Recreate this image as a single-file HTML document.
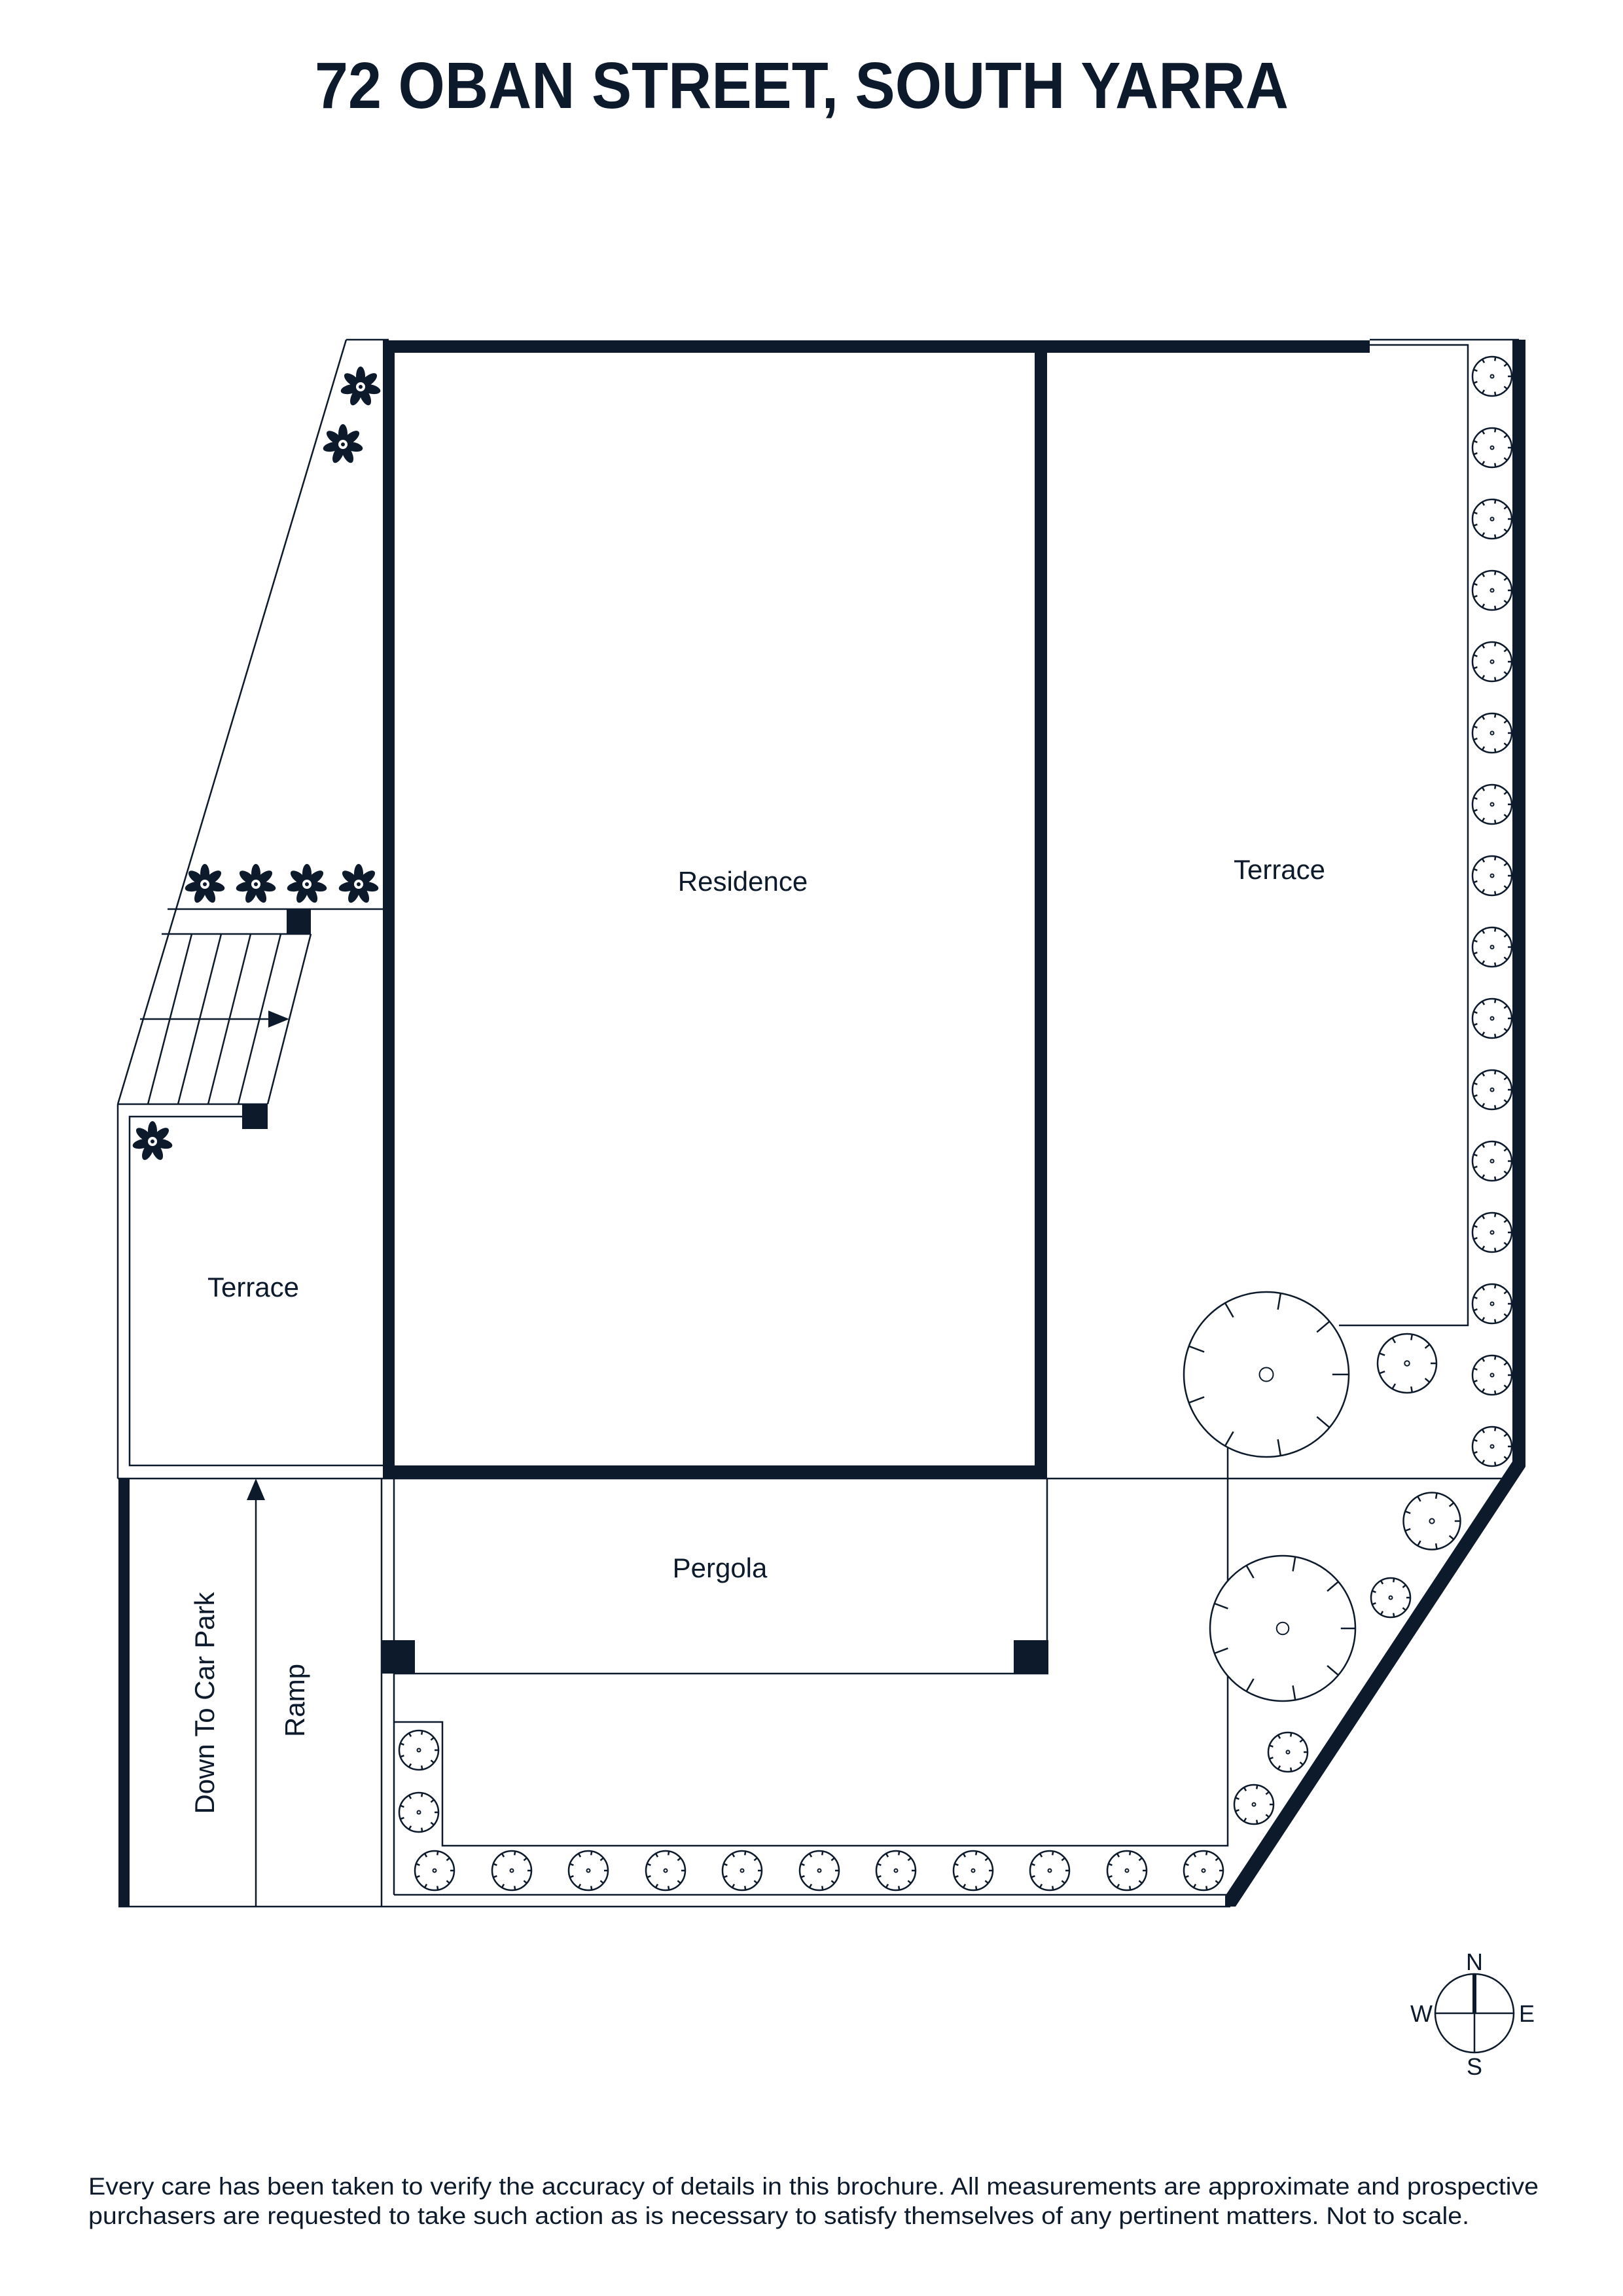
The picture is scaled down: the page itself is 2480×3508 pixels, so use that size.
<!DOCTYPE html>
<html><head><meta charset="utf-8"><style>html,body{margin:0;padding:0;background:#fff}svg{display:block}</style></head>
<body>
<svg xmlns="http://www.w3.org/2000/svg" xmlns:xlink="http://www.w3.org/1999/xlink" width="2480" height="3508" viewBox="0 0 2480 3508">
<defs>
<g id="st">
<circle r="30" fill="#fff" stroke="#0d1a2b" stroke-width="2.5" vector-effect="non-scaling-stroke"/>
<circle r="2.5" fill="none" stroke="#0d1a2b" stroke-width="2" vector-effect="non-scaling-stroke"/>
<g stroke="#0d1a2b" stroke-width="2.5" vector-effect="non-scaling-stroke">
<line x1="24" y1="0" x2="30" y2="0" vector-effect="non-scaling-stroke"/>
<line x1="18.4" y1="15.4" x2="23" y2="19.3" vector-effect="non-scaling-stroke"/>
<line x1="4.2" y1="23.6" x2="5.2" y2="29.5" vector-effect="non-scaling-stroke"/>
<line x1="-12" y1="20.8" x2="-15" y2="26" vector-effect="non-scaling-stroke"/>
<line x1="-22.6" y1="8.2" x2="-28.2" y2="10.3" vector-effect="non-scaling-stroke"/>
<line x1="-22.6" y1="-8.2" x2="-28.2" y2="-10.3" vector-effect="non-scaling-stroke"/>
<line x1="-12" y1="-20.8" x2="-15" y2="-26" vector-effect="non-scaling-stroke"/>
<line x1="4.2" y1="-23.6" x2="5.2" y2="-29.5" vector-effect="non-scaling-stroke"/>
<line x1="18.4" y1="-15.4" x2="23" y2="-19.3" vector-effect="non-scaling-stroke"/>
</g>
</g>
<g id="fl" fill="#0d1a2b">
<ellipse cx="0" cy="-16" rx="7" ry="15"/>
<ellipse cx="0" cy="-16" rx="7" ry="15" transform="rotate(51.4)"/>
<ellipse cx="0" cy="-16" rx="7" ry="15" transform="rotate(102.8)"/>
<ellipse cx="0" cy="-16" rx="7" ry="15" transform="rotate(154.2)"/>
<ellipse cx="0" cy="-16" rx="7" ry="15" transform="rotate(205.6)"/>
<ellipse cx="0" cy="-16" rx="7" ry="15" transform="rotate(257)"/>
<ellipse cx="0" cy="-16" rx="7" ry="15" transform="rotate(308.4)"/>
<circle r="8" fill="#fff" stroke="#0d1a2b" stroke-width="2"/>
<circle r="3" fill="#0d1a2b"/>
</g>
</defs>

<text x="1225" y="165" font-family="Liberation Sans, sans-serif" font-weight="bold" font-size="100" fill="#0d1a2b" text-anchor="middle" textLength="1488" lengthAdjust="spacingAndGlyphs">72 OBAN STREET, SOUTH YARRA</text>

<g stroke="#0d1a2b" stroke-width="2.5" fill="none">
<line x1="529" y1="519" x2="594" y2="519"/>
<line x1="529" y1="519" x2="180" y2="1687"/>
<line x1="180" y1="1687" x2="180" y2="2259"/>
<line x1="256" y1="1389" x2="594" y2="1389"/>
<line x1="247" y1="1427" x2="475" y2="1427"/>
<line x1="475" y1="1427" x2="409" y2="1687"/>
<line x1="293" y1="1427" x2="226" y2="1687"/>
<line x1="338" y1="1427" x2="272" y2="1687"/>
<line x1="383" y1="1427" x2="318" y2="1687"/>
<line x1="429" y1="1427" x2="364" y2="1687"/>
<line x1="180" y1="1687" x2="409" y2="1687"/>
<line x1="214" y1="1557" x2="415" y2="1557"/>
<polyline points="370,1706 198,1706 198,2239 594,2239"/>
<line x1="180" y1="2259" x2="2300" y2="2259"/>
<line x1="391" y1="2285" x2="391" y2="2913"/>
<line x1="583" y1="2259" x2="583" y2="2913"/>
<line x1="181" y1="2913" x2="1880" y2="2913"/>
<line x1="602" y1="2259" x2="602" y2="2895"/>
<line x1="602" y1="2895" x2="1880" y2="2895"/>
<line x1="602" y1="2557" x2="1602" y2="2557"/>
<line x1="1600" y1="2259" x2="1600" y2="2557"/>
<polyline points="602,2631 676,2631 676,2820 1876,2820 1876,2180"/>
<polyline points="2093,519 2321,519"/>
<polyline points="2093,527 2243,527 2243,2025 2046,2025"/>
</g>
<polygon points="442,1557 410,1544 410,1570" fill="#0d1a2b"/>
<polygon points="391,2259 377,2292 405,2292" fill="#0d1a2b"/>

<g fill="#0d1a2b">
<rect x="585" y="520" width="1508" height="19"/>
<rect x="585" y="520" width="18" height="1740"/>
<rect x="1581" y="520" width="19" height="1740"/>
<rect x="585" y="2239" width="1015" height="21"/>
<rect x="181" y="2259" width="17" height="654"/>
<rect x="438" y="1389" width="37" height="38"/>
<rect x="370" y="1687" width="39" height="38"/>
<rect x="583" y="2506" width="51" height="51"/>
<rect x="1549" y="2506" width="53" height="51"/>
<polygon points="2311,519 2331,519 2331,2241 1888,2913 1872,2913 1872,2897 2311,2233"/>
</g>

<use xlink:href="#fl" transform="translate(551,591)"/>
<use xlink:href="#fl" transform="translate(524,679)"/>
<use xlink:href="#fl" transform="translate(313,1351)"/>
<use xlink:href="#fl" transform="translate(391,1351)"/>
<use xlink:href="#fl" transform="translate(469,1351)"/>
<use xlink:href="#fl" transform="translate(548,1351)"/>
<use xlink:href="#fl" transform="translate(233,1744)"/>

<use xlink:href="#st" transform="translate(2280,575)"/>
<use xlink:href="#st" transform="translate(2280,684)"/>
<use xlink:href="#st" transform="translate(2280,793)"/>
<use xlink:href="#st" transform="translate(2280,902)"/>
<use xlink:href="#st" transform="translate(2280,1011)"/>
<use xlink:href="#st" transform="translate(2280,1120)"/>
<use xlink:href="#st" transform="translate(2280,1229)"/>
<use xlink:href="#st" transform="translate(2280,1338)"/>
<use xlink:href="#st" transform="translate(2280,1447)"/>
<use xlink:href="#st" transform="translate(2280,1556)"/>
<use xlink:href="#st" transform="translate(2280,1665)"/>
<use xlink:href="#st" transform="translate(2280,1774)"/>
<use xlink:href="#st" transform="translate(2280,1883)"/>
<use xlink:href="#st" transform="translate(2280,1992)"/>
<use xlink:href="#st" transform="translate(2280,2101)"/>
<use xlink:href="#st" transform="translate(2280,2210)"/>
<use xlink:href="#st" transform="translate(640,2674)"/>
<use xlink:href="#st" transform="translate(640,2769)"/>
<use xlink:href="#st" transform="translate(664,2858)"/>
<use xlink:href="#st" transform="translate(782,2858)"/>
<use xlink:href="#st" transform="translate(899,2858)"/>
<use xlink:href="#st" transform="translate(1017,2858)"/>
<use xlink:href="#st" transform="translate(1134,2858)"/>
<use xlink:href="#st" transform="translate(1252,2858)"/>
<use xlink:href="#st" transform="translate(1369,2858)"/>
<use xlink:href="#st" transform="translate(1487,2858)"/>
<use xlink:href="#st" transform="translate(1604,2858)"/>
<use xlink:href="#st" transform="translate(1722,2858)"/>
<use xlink:href="#st" transform="translate(1839,2858)"/>
<use xlink:href="#st" transform="translate(2150,2083) scale(1.5)"/>
<use xlink:href="#st" transform="translate(2188,2324) scale(1.45)"/>
<use xlink:href="#st" transform="translate(2125,2441)"/>
<use xlink:href="#st" transform="translate(1968,2677)"/>
<use xlink:href="#st" transform="translate(1916,2757)"/>
<use xlink:href="#st" transform="translate(1935,2100) scale(4.2)"/>
<use xlink:href="#st" transform="translate(1960,2488) scale(3.7)"/>

<g font-family="Liberation Sans, sans-serif" font-size="42" fill="#0d1a2b" text-anchor="middle">
<text x="1135" y="1361">Residence</text>
<text x="1955" y="1343">Terrace</text>
<text x="387" y="1981">Terrace</text>
<text x="1100" y="2410">Pergola</text>
<text transform="translate(327,2602) rotate(-90)" textLength="339" lengthAdjust="spacingAndGlyphs">Down To Car Park</text>
<text transform="translate(465,2598) rotate(-90)">Ramp</text>
</g>

<g stroke="#0d1a2b" stroke-width="2.5" fill="none">
<circle cx="2253" cy="3076" r="60"/>
<line x1="2193" y1="3076" x2="2313" y2="3076"/>
<line x1="2253" y1="3016" x2="2253" y2="3136"/>
</g>
<rect x="2250" y="3016" width="6" height="60" fill="#0d1a2b"/>
<g font-family="Liberation Sans, sans-serif" font-size="36" fill="#0d1a2b" text-anchor="middle">
<text x="2253" y="3010">N</text>
<text x="2253" y="3170">S</text>
<text x="2172" y="3089">W</text>
<text x="2333" y="3089">E</text>
</g>

<g font-family="Liberation Sans, sans-serif" font-size="37" fill="#0d1a2b">
<text x="135" y="3353" textLength="2216" lengthAdjust="spacingAndGlyphs">Every care has been taken to verify the accuracy of details in this brochure. All measurements are approximate and prospective</text>
<text x="135" y="3398" textLength="2110" lengthAdjust="spacingAndGlyphs">purchasers are requested to take such action as is necessary to satisfy themselves of any pertinent matters. Not to scale.</text>
</g>
</svg>
</body></html>
